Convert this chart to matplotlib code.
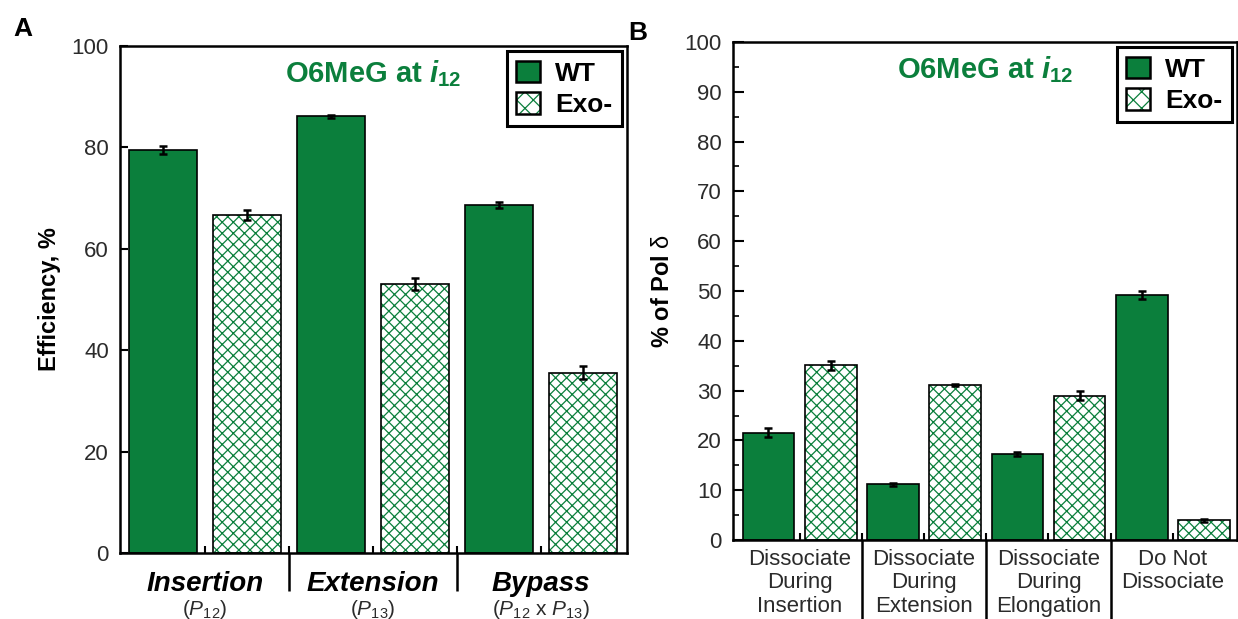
import matplotlib as mpl
mpl.use("Agg")
import matplotlib.pyplot as plt
from matplotlib.patches import Patch
import numpy as np

# data
groups_a = ["Insertion", "Extension", "Bypass"]
subs_a = [r"($\mathit{P}_{12}$)", r"($\mathit{P}_{13}$)",
          r"($\mathit{P}_{12}$ x $\mathit{P}_{13}$)"]
wt_a = [79.5, 86.1, 68.6]
wt_a_err = [0.8, 0.3, 0.6]
exo_a = [66.7, 53.1, 35.6]
exo_a_err = [1.0, 1.2, 1.2]

groups_b = ["Dissociate\nDuring\nInsertion", "Dissociate\nDuring\nExtension",
            "Dissociate\nDuring\nElongation", "Do Not\nDissociate"]
wt_b = [21.5, 11.2, 17.3, 49.2]
wt_b_err = [0.9, 0.3, 0.4, 0.9]
exo_b = [35.1, 31.2, 29.0, 4.0]
exo_b_err = [0.9, 0.2, 0.9, 0.3]

GREEN = "#0b7f3c"
TICKC = "#2b2b2b"

plt.rcParams["font.family"] = ["Liberation Sans", "DejaVu Sans"]
plt.rcParams["mathtext.fontset"] = "custom"
plt.rcParams["mathtext.rm"] = "Liberation Sans"
plt.rcParams["mathtext.it"] = "Liberation Sans:italic"
plt.rcParams["mathtext.bf"] = "Liberation Sans:bold"
plt.rcParams["mathtext.bfit"] = "Liberation Sans:bold:italic"
plt.rcParams["hatch.linewidth"] = 0.9

fig = plt.figure(figsize=(12.38, 6.19), dpi=100)
W, H = 1238, 619


def axes_px(l, t, r, b):
    return fig.add_axes([l / W, 1 - b / H, (r - l) / W, (b - t) / H])


def draw_bars(ax, wt, wt_err, exo, exo_err, width):
    n = len(wt)
    x_wt = np.arange(n) * 2
    x_exo = x_wt + 1
    ax.bar(x_wt, wt, width, color=GREEN, edgecolor="black", linewidth=1.2, zorder=2)
    ax.bar(x_exo, exo, width, color="white", edgecolor=GREEN, hatch="xxx",
           linewidth=0, zorder=2)
    ax.bar(x_exo, exo, width, fill=False, edgecolor="black", linewidth=1.2, zorder=3)
    ax.errorbar(x_wt, wt, yerr=wt_err, fmt="none", ecolor="black", elinewidth=1.8,
                capsize=3, capthick=1.8, zorder=4)
    ax.errorbar(x_exo, exo, yerr=exo_err, fmt="none", ecolor="black", elinewidth=1.8,
                capsize=3, capthick=1.8, zorder=4)
    return n


def style_axes(ax, n, sep_len):
    for s in ax.spines.values():
        s.set_linewidth(1.8)
    ax.xaxis.remove_overlapping_locs = False
    # small inward ticks between every bar pair
    ax.set_xticks(np.arange(2 * n - 1) + 0.5)
    ax.set_xticklabels([])
    ax.tick_params(axis="x", which="major", direction="in", length=5, width=1.5)
    # long separators below the axis between groups
    ax.set_xticks(np.arange(n - 1) * 2 + 1.5, minor=True)
    ax.tick_params(axis="x", which="minor", direction="out", length=sep_len, width=1.8)
    ax.tick_params(axis="y", which="both", direction="in", labelsize=16,
                   labelcolor=TICKC, pad=8)


def add_legend(ax):
    h_wt = Patch(facecolor=GREEN, edgecolor="black", linewidth=1.8)
    h_exo = (Patch(facecolor="white", edgecolor=GREEN, hatch="xx", linewidth=0),
             Patch(fill=False, edgecolor="black", linewidth=1.8))
    leg = ax.legend([h_wt, h_exo], ["WT", "Exo-"], loc="upper right",
                    prop={"weight": "bold", "size": 19}, handlelength=0.9,
                    handleheight=0.9, handletextpad=0.6, labelspacing=0.25,
                    borderpad=0.35, borderaxespad=0.2, fancybox=False,
                    framealpha=1, edgecolor="black")
    leg.get_frame().set_linewidth(2.2)


def add_title(ax, x):
    ax.text(x, 0.975, r"O6MeG at $\mathbfit{i}_{\mathbf{12}}$", transform=ax.transAxes,
            ha="center", va="top", color=GREEN, fontsize=21, fontweight="bold")


# ---- panel A
axA = axes_px(120, 46, 627, 553)
nA = draw_bars(axA, wt_a, wt_a_err, exo_a, exo_a_err, 0.81)
axA.set_xlim(-0.51, 5.52)
axA.set_ylim(0, 100)
axA.set_yticks(np.arange(0, 101, 20))
style_axes(axA, nA, 27)
axA.tick_params(axis="y", which="major", length=6, width=1.5)
axA.set_ylabel("Efficiency, %", fontsize=17, fontweight="bold", labelpad=8)
add_legend(axA)
add_title(axA, 0.5)
for i, (g, s) in enumerate(zip(groups_a, subs_a)):
    axA.text(2 * i + 0.5, -0.035, g, transform=axA.get_xaxis_transform(),
             ha="center", va="top", fontsize=20, fontweight="bold", style="italic")
    axA.text(2 * i + 0.5, -0.088, s, transform=axA.get_xaxis_transform(),
             ha="center", va="top", fontsize=15, color=TICKC)

# ---- panel B
axB = axes_px(733, 42, 1237, 540)
nB = draw_bars(axB, wt_b, wt_b_err, exo_b, exo_b_err, 0.83)
axB.set_xlim(-0.57, 7.53)
axB.set_ylim(0, 100)
axB.set_yticks(np.arange(0, 101, 10))
axB.set_yticks(np.arange(0, 101, 5), minor=True)
style_axes(axB, nB, 60)
axB.tick_params(axis="y", which="major", length=8, width=1.5)
axB.tick_params(axis="y", which="minor", length=4, width=1.2)
axB.set_ylabel(r"% of Pol $\mathrm{\delta}$", fontsize=17, fontweight="bold", labelpad=8)
add_legend(axB)
add_title(axB, 0.5)
for i, g in enumerate(groups_b):
    axB.text(2 * i + 0.5, -0.018, g, transform=axB.get_xaxis_transform(),
             ha="center", va="top", fontsize=16, color=TICKC, linespacing=1.15)

fig.text(13 / W, 1 - 17 / H, "A", fontsize=19, fontweight="bold", va="top", ha="left")
fig.text(628 / W, 1 - 21 / H, "B", fontsize=19, fontweight="bold", va="top", ha="left")

fig.savefig("out.png", dpi=100)
